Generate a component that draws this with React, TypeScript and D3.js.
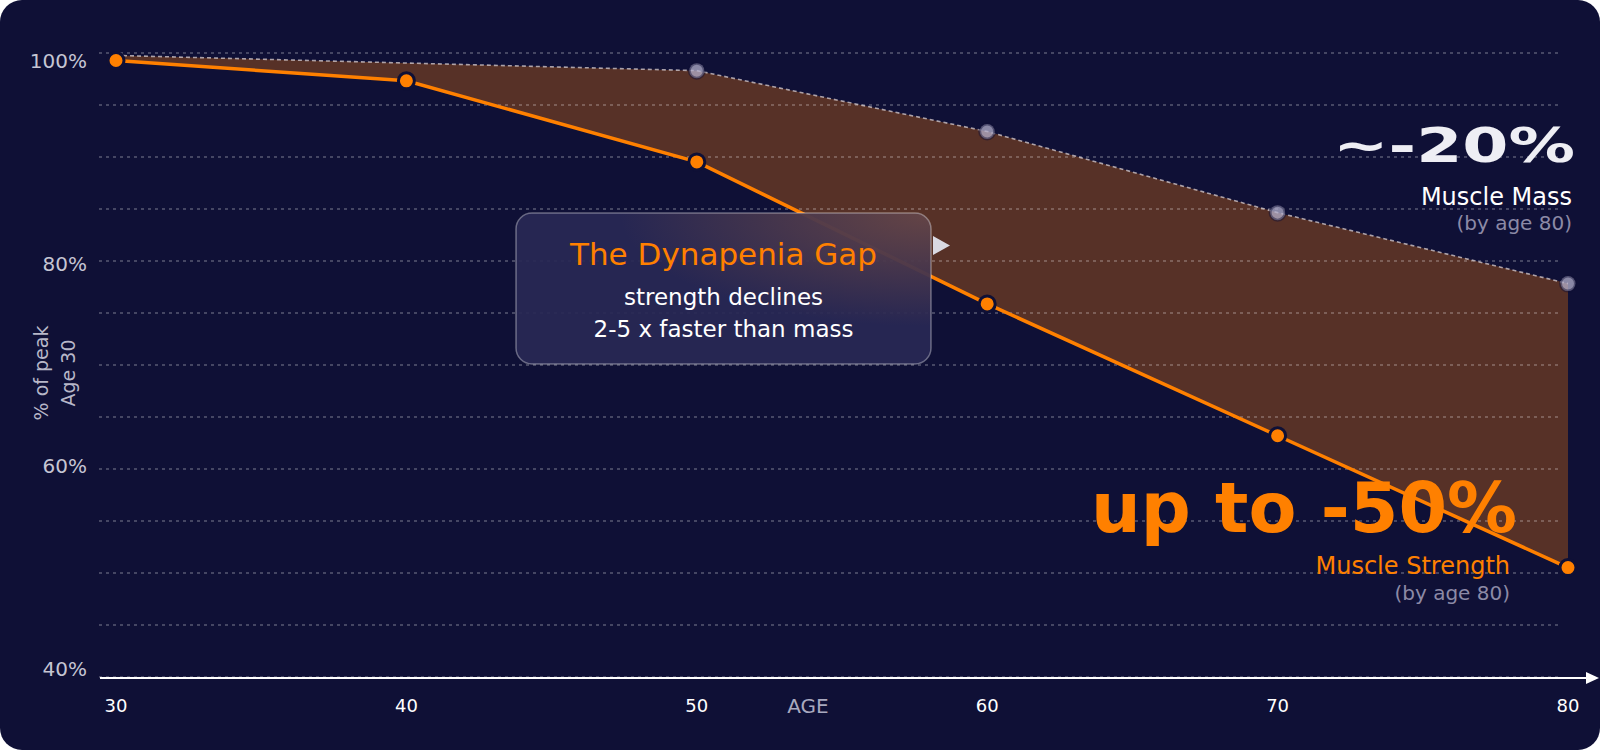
import * as d3 from "d3";
import { useEffect, useRef } from "react";

// values (percent of peak at age 30)
const ages = [30, 40, 50, 60, 70, 80];
const strength = [100, 98, 90, 76, 63, 50];
const massAges = [30, 50, 60, 70, 80];
const mass = [100.5, 99, 93, 85, 78];
const yTickValues = [40, 60, 80, 100];
const gridValues = [40, 45, 50, 55, 60, 65, 70, 75, 80, 85, 90, 95, 100];
const xTickValues = [30, 40, 50, 60, 70, 80];

const FONT = "'DejaVu Sans', 'Noto Sans', sans-serif";
const BG = "#0f1036";
const ORANGE = "#ff8000";
const BROWN = "#573127";
const GRAY_TEXT = "#8c8aa6";

interface Pt {
  age: number;
  value: number;
}

export default function App() {
  const ref = useRef<SVGSVGElement>(null);

  useEffect(() => {
    document.body.style.margin = "0";
    const svg = d3.select(ref.current);
    svg.selectAll("*").remove();

    const width = 1600;
    const height = 750;

    const x = d3.scaleLinear().domain([30, 80]).range([116, 1568]);
    const y = d3.scaleLinear().domain([40, 100]).range([669, 60.5]);
    // the dashed grid sits on a slightly wider band than the labels
    const yGrid = d3.scaleLinear().domain([40, 100]).range([677, 53]);

    const strengthPts: Pt[] = ages.map((a, i) => ({ age: a, value: strength[i] }));
    const massPts: Pt[] = massAges.map((a, i) => ({ age: a, value: mass[i] }));

    const defs = svg.append("defs");
    const glow = defs
      .append("radialGradient")
      .attr("id", "box-glow")
      .attr("cx", "100%")
      .attr("cy", "0%")
      .attr("r", "75%");
    glow.append("stop").attr("offset", "0%").attr("stop-color", "rgba(120,78,66,0.75)");
    glow.append("stop").attr("offset", "100%").attr("stop-color", "rgba(120,78,66,0)");

    // page + card
    svg.append("rect").attr("width", width).attr("height", height).attr("fill", "#fff");
    svg
      .append("rect")
      .attr("width", width)
      .attr("height", height)
      .attr("rx", 22)
      .attr("fill", BG);

    // gap area between mass (top) and strength (bottom)
    const massLine = d3
      .line<Pt>()
      .x((d) => x(d.age))
      .y((d) => y(d.value));
    const strengthLine = d3
      .line<Pt>()
      .x((d) => x(d.age))
      .y((d) => y(d.value));

    const areaPath =
      (massLine(massPts) ?? "") +
      (strengthLine(strengthPts.slice().reverse()) ?? "").replace(/^M/, "L") +
      "Z";
    svg.append("path").attr("d", areaPath).attr("fill", BROWN);

    // grid
    svg
      .append("g")
      .selectAll("line")
      .data(gridValues)
      .enter()
      .append("line")
      .attr("x1", 99)
      .attr("x2", 1562)
      .attr("y1", (d) => yGrid(d))
      .attr("y2", (d) => yGrid(d))
      .attr("stroke", "rgba(255,255,255,0.3)")
      .attr("stroke-width", 1.5)
      .attr("stroke-dasharray", "3 4");

    // y labels
    svg
      .append("g")
      .selectAll("text")
      .data(yTickValues)
      .enter()
      .append("text")
      .attr("x", 87)
      .attr("y", (d) => y(d))
      .attr("dy", "0.36em")
      .attr("text-anchor", "end")
      .attr("font-family", FONT)
      .attr("font-size", 20)
      .attr("fill", "#c5c5d3")
      .text((d) => `${d}%`);

    // y title
    const yTitle = svg
      .append("text")
      .attr("transform", "translate(48,373) rotate(-90)")
      .attr("text-anchor", "middle")
      .attr("font-family", FONT)
      .attr("font-size", 19)
      .attr("fill", "#b7b7c8");
    yTitle.append("tspan").attr("x", 0).attr("y", 0).text("% of peak");
    yTitle.append("tspan").attr("x", 0).attr("y", 27).text("Age 30");

    // x axis
    const axisY = yGrid(40) + 1;
    svg
      .append("line")
      .attr("x1", 100)
      .attr("x2", 1588)
      .attr("y1", axisY)
      .attr("y2", axisY)
      .attr("stroke", "#ffffff")
      .attr("stroke-width", 2);
    svg
      .append("path")
      .attr("d", `M1586,${axisY - 6}L1599,${axisY}L1586,${axisY + 6}Z`)
      .attr("fill", "#ffffff");

    svg
      .append("g")
      .selectAll("text")
      .data(xTickValues)
      .enter()
      .append("text")
      .attr("x", (d) => x(d))
      .attr("y", 712)
      .attr("text-anchor", "middle")
      .attr("font-family", FONT)
      .attr("font-size", 18)
      .attr("fill", "#ffffff")
      .text((d) => String(d));

    svg
      .append("text")
      .attr("x", 808)
      .attr("y", 713)
      .attr("text-anchor", "middle")
      .attr("font-family", FONT)
      .attr("font-size", 20)
      .attr("fill", "#a9a9bf")
      .text("AGE");

    // muscle mass line (dashed)
    svg
      .append("path")
      .datum(massPts)
      .attr("d", massLine)
      .attr("fill", "none")
      .attr("stroke", "rgba(215,205,210,0.75)")
      .attr("stroke-width", 1.6)
      .attr("stroke-dasharray", "4 3");

    // muscle strength line
    svg
      .append("path")
      .datum(strengthPts)
      .attr("d", strengthLine)
      .attr("fill", "none")
      .attr("stroke", ORANGE)
      .attr("stroke-width", 3.5);

    // mass markers (the shared 100% start sits under the strength marker)
    svg
      .append("g")
      .selectAll("circle")
      .data(massPts.slice(1))
      .enter()
      .append("circle")
      .attr("cx", (d) => x(d.age))
      .attr("cy", (d) => y(d.value))
      .attr("r", 7.5)
      .attr("fill", "rgba(180,176,204,0.75)")
      .attr("stroke", "rgba(16,16,54,0.45)")
      .attr("stroke-width", 3);

    svg
      .append("g")
      .selectAll("circle")
      .data(strengthPts)
      .enter()
      .append("circle")
      .attr("cx", (d) => x(d.age))
      .attr("cy", (d) => y(d.value))
      .attr("r", 8)
      .attr("fill", ORANGE)
      .attr("stroke", BG)
      .attr("stroke-width", 3);

    // right-hand annotations
    svg
      .append("text")
      .attr("x", 1333)
      .attr("y", 162)
      .attr("font-family", FONT)
      .attr("font-weight", "bold")
      .attr("font-size", 48)
      .attr("textLength", 242)
      .attr("lengthAdjust", "spacingAndGlyphs")
      .attr("fill", "#eeeef4")
      .text("~-20%");
    svg
      .append("text")
      .attr("x", 1572)
      .attr("y", 205)
      .attr("text-anchor", "end")
      .attr("font-family", FONT)
      .attr("font-size", 24)
      .attr("fill", "#ffffff")
      .text("Muscle Mass");
    svg
      .append("text")
      .attr("x", 1572)
      .attr("y", 230)
      .attr("text-anchor", "end")
      .attr("font-family", FONT)
      .attr("font-size", 20)
      .attr("fill", GRAY_TEXT)
      .text("(by age 80)");

    svg
      .append("text")
      .attr("x", 1091)
      .attr("y", 532)
      .attr("font-family", FONT)
      .attr("font-weight", "bold")
      .attr("font-size", 70)
      .attr("textLength", 426)
      .attr("lengthAdjust", "spacingAndGlyphs")
      .attr("fill", ORANGE)
      .text("up to -50%");
    svg
      .append("text")
      .attr("x", 1510)
      .attr("y", 574)
      .attr("text-anchor", "end")
      .attr("font-family", FONT)
      .attr("font-size", 24)
      .attr("fill", ORANGE)
      .text("Muscle Strength");
    svg
      .append("text")
      .attr("x", 1510)
      .attr("y", 600)
      .attr("text-anchor", "end")
      .attr("font-family", FONT)
      .attr("font-size", 20)
      .attr("fill", GRAY_TEXT)
      .text("(by age 80)");

    // callout box
    const box = { x: 516, y: 213, w: 415, h: 151 };
    svg
      .append("rect")
      .attr("x", box.x)
      .attr("y", box.y)
      .attr("width", box.w)
      .attr("height", box.h)
      .attr("rx", 16)
      .attr("fill", "rgba(40,40,84,0.93)");
    svg
      .append("rect")
      .attr("x", box.x)
      .attr("y", box.y)
      .attr("width", box.w)
      .attr("height", box.h)
      .attr("rx", 16)
      .attr("fill", "url(#box-glow)")
      .attr("stroke", "rgba(255,255,255,0.35)")
      .attr("stroke-width", 1.5);
    svg
      .append("path")
      .attr("d", `M${box.x + box.w + 2},236L${box.x + box.w + 19},245.5L${box.x + box.w + 2},255Z`)
      .attr("fill", "#d9d9e2");

    const cx = box.x + box.w / 2;
    svg
      .append("text")
      .attr("x", cx)
      .attr("y", 265)
      .attr("text-anchor", "middle")
      .attr("font-family", FONT)
      .attr("font-size", 31)
      .attr("fill", ORANGE)
      .text("The Dynapenia Gap");
    svg
      .append("text")
      .attr("x", cx)
      .attr("y", 305)
      .attr("text-anchor", "middle")
      .attr("font-family", FONT)
      .attr("font-size", 23)
      .attr("fill", "#ffffff")
      .text("strength declines");
    svg
      .append("text")
      .attr("x", cx)
      .attr("y", 337)
      .attr("text-anchor", "middle")
      .attr("font-family", FONT)
      .attr("font-size", 23)
      .attr("fill", "#ffffff")
      .text("2-5 x faster than mass");
  }, []);

  return <svg ref={ref} width={1600} height={750} style={{ display: "block" }} />;
}
